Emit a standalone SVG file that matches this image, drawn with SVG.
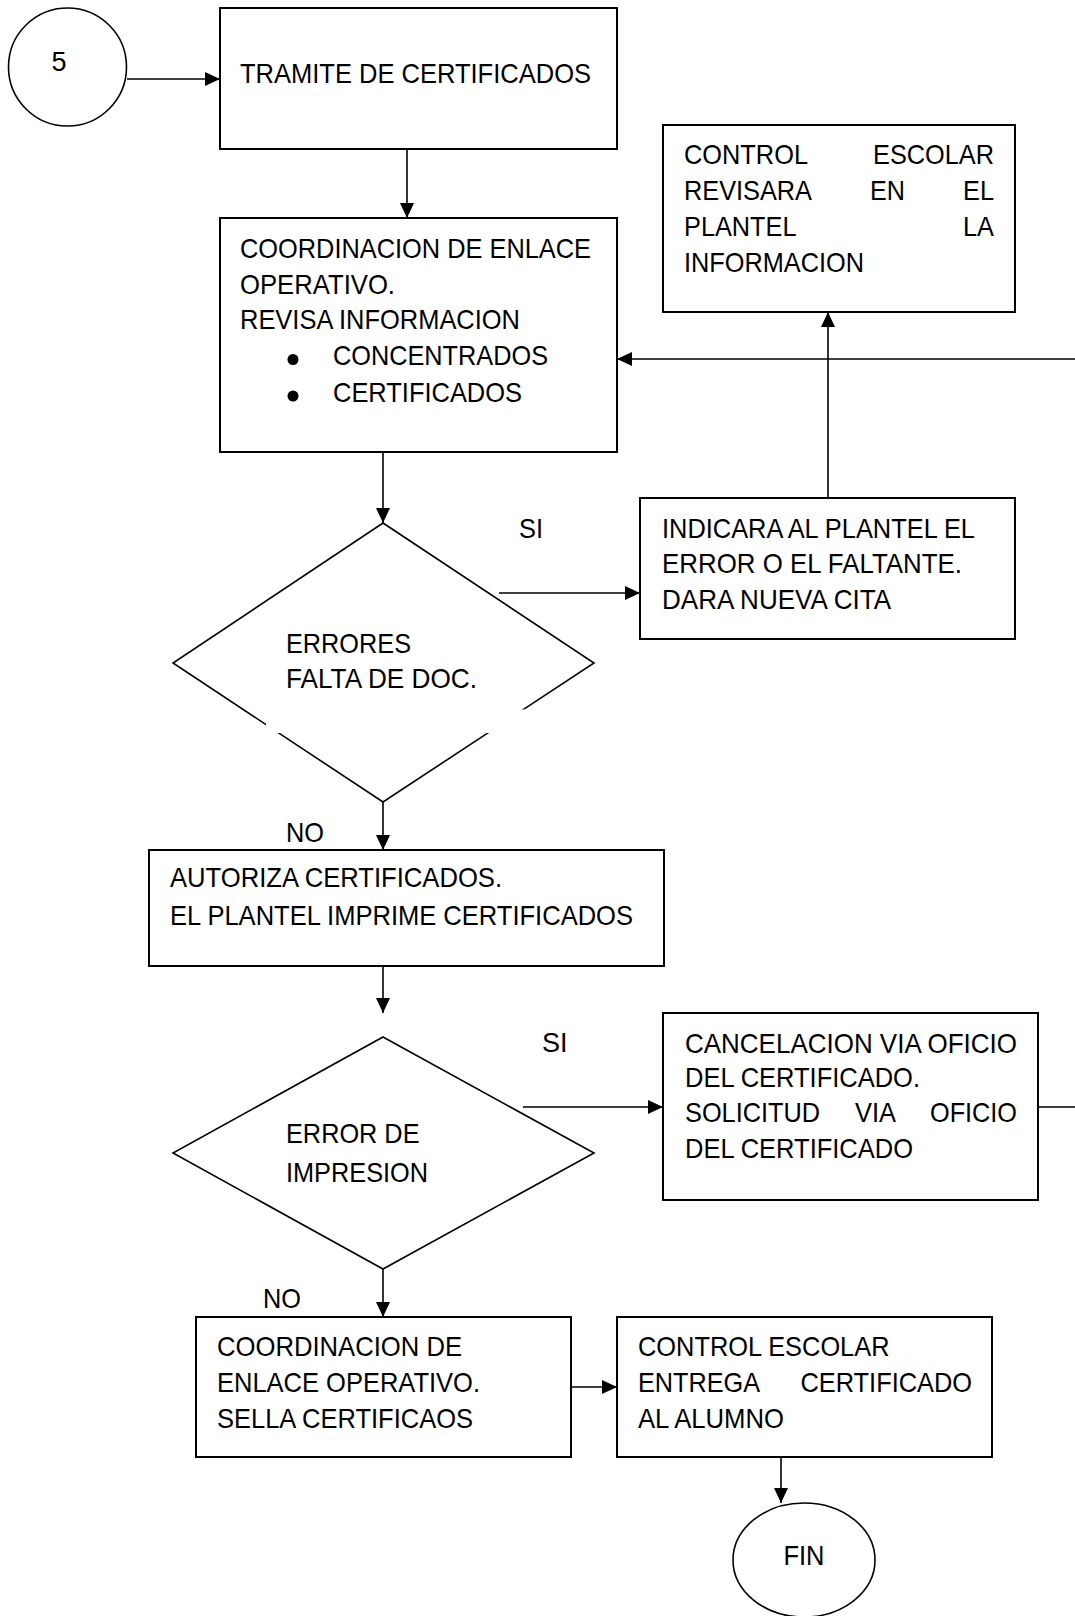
<svg xmlns="http://www.w3.org/2000/svg" width="1075" height="1616" viewBox="0 0 1075 1616">
  <style>
    .box { fill: #fff; stroke: #000; stroke-width: 2; }
    .shape { fill: #fff; stroke: #000; stroke-width: 1.6; }
    .link { fill: none; stroke: #000; stroke-width: 1.6; }
    .t { font-family: "Liberation Sans", Arial, sans-serif; font-size: 28px; fill: #000; }
    .plain { font-family: "Liberation Sans", Arial, sans-serif; font-size: 27px; fill: #000; }
  </style>
  <defs>
    <marker id="arrow" markerUnits="userSpaceOnUse" markerWidth="16" markerHeight="14" refX="15" refY="7" orient="auto">
      <path d="M0,0 L15,7 L0,14 Z" fill="#000"/>
    </marker>
  </defs>
  <rect width="1075" height="1616" fill="#fff"/>

  <!-- connectors -->
  <g id="connectors">
    <line class="link" x1="127" y1="79" x2="220" y2="79" marker-end="url(#arrow)"/>
    <line class="link" x1="407" y1="149" x2="407" y2="218" marker-end="url(#arrow)"/>
    <line class="link" x1="383" y1="452" x2="383" y2="523" marker-end="url(#arrow)"/>
    <line class="link" x1="499" y1="593" x2="640" y2="593" marker-end="url(#arrow)"/>
    <line class="link" x1="828" y1="498" x2="828" y2="312" marker-end="url(#arrow)"/>
    <line class="link" x1="1075" y1="359" x2="617" y2="359" marker-end="url(#arrow)"/>
    <line class="link" x1="383" y1="802" x2="383" y2="850" marker-end="url(#arrow)"/>
    <line class="link" x1="383" y1="966" x2="383" y2="1013" marker-end="url(#arrow)"/>
    <line class="link" x1="523" y1="1107" x2="663" y2="1107" marker-end="url(#arrow)"/>
    <line class="link" x1="1038" y1="1107" x2="1075" y2="1107"/>
    <line class="link" x1="383" y1="1269" x2="383" y2="1317" marker-end="url(#arrow)"/>
    <line class="link" x1="571" y1="1387" x2="617" y2="1387" marker-end="url(#arrow)"/>
    <line class="link" x1="781" y1="1457" x2="781" y2="1503" marker-end="url(#arrow)"/>
    <text class="t" x="519" y="538" textLength="24" lengthAdjust="spacingAndGlyphs">SI</text>
    <text class="t" x="286" y="841.5" textLength="38" lengthAdjust="spacingAndGlyphs">NO</text>
    <text class="plain" x="542" y="1052">SI</text>
    <text class="t" x="263" y="1308" textLength="38" lengthAdjust="spacingAndGlyphs">NO</text>
  </g>

  <!-- connector 5 -->
  <g id="start">
    <circle class="shape" cx="67.5" cy="67" r="59"/>
    <text class="plain" x="59" y="71" text-anchor="middle">5</text>
  </g>

  <g id="tramite">
    <rect class="box" x="220" y="8" width="397" height="141"/>
    <text class="t" x="240" y="83" textLength="351" lengthAdjust="spacingAndGlyphs">TRAMITE DE CERTIFICADOS</text>
  </g>

  <g id="coordinacion-revisa">
    <rect class="box" x="220" y="218" width="397" height="234"/>
    <text class="t" x="240" y="258" textLength="351" lengthAdjust="spacingAndGlyphs">COORDINACION DE ENLACE</text>
    <text class="t" x="240" y="293.5" textLength="155" lengthAdjust="spacingAndGlyphs">OPERATIVO.</text>
    <text class="t" x="240" y="328.5" textLength="280" lengthAdjust="spacingAndGlyphs">REVISA INFORMACION</text>
    <circle cx="293" cy="359.5" r="5.5" fill="#000"/>
    <text class="t" x="333" y="365" textLength="215" lengthAdjust="spacingAndGlyphs">CONCENTRADOS</text>
    <circle cx="293" cy="396" r="5.5" fill="#000"/>
    <text class="t" x="333" y="401.5" textLength="189" lengthAdjust="spacingAndGlyphs">CERTIFICADOS</text>
  </g>

  <g id="control-revisara">
    <rect class="box" x="663" y="125" width="352" height="187"/>
    <text class="t" x="684" y="164" textLength="124" lengthAdjust="spacingAndGlyphs">CONTROL</text>
    <text class="t" x="873" y="164" textLength="121" lengthAdjust="spacingAndGlyphs">ESCOLAR</text>
    <text class="t" x="684" y="200" textLength="128" lengthAdjust="spacingAndGlyphs">REVISARA</text>
    <text class="t" x="870" y="200" textLength="35" lengthAdjust="spacingAndGlyphs">EN</text>
    <text class="t" x="963" y="200" textLength="31" lengthAdjust="spacingAndGlyphs">EL</text>
    <text class="t" x="684" y="236" textLength="112.5" lengthAdjust="spacingAndGlyphs">PLANTEL</text>
    <text class="t" x="963" y="236" textLength="31" lengthAdjust="spacingAndGlyphs">LA</text>
    <text class="t" x="684" y="272" textLength="180" lengthAdjust="spacingAndGlyphs">INFORMACION</text>
  </g>

  <g id="indicara">
    <rect class="box" x="640" y="498" width="375" height="141"/>
    <text class="t" x="662" y="537.5" textLength="313" lengthAdjust="spacingAndGlyphs">INDICARA AL PLANTEL EL</text>
    <text class="t" x="662" y="573" textLength="300" lengthAdjust="spacingAndGlyphs">ERROR O EL FALTANTE.</text>
    <text class="t" x="662" y="609" textLength="229" lengthAdjust="spacingAndGlyphs">DARA NUEVA CITA</text>
  </g>

  <g id="errores">
    <polygon class="shape" points="383,523 594,663 383,802 173,663"/>
    <rect x="266" y="709.5" width="262" height="23.5" fill="#fff"/>
    <text class="t" x="286" y="652.7" textLength="125" lengthAdjust="spacingAndGlyphs">ERRORES</text>
    <text class="t" x="286" y="688" textLength="191" lengthAdjust="spacingAndGlyphs">FALTA DE DOC.</text>
  </g>

  <g id="autoriza">
    <rect class="box" x="149" y="850" width="515" height="116"/>
    <text class="t" x="170" y="887" textLength="332" lengthAdjust="spacingAndGlyphs">AUTORIZA CERTIFICADOS.</text>
    <text class="t" x="170" y="925" textLength="463" lengthAdjust="spacingAndGlyphs">EL PLANTEL IMPRIME CERTIFICADOS</text>
  </g>

  <g id="error-impresion">
    <polygon class="shape" points="383,1037 594,1153 383,1269 173,1153"/>
    <text class="t" x="286" y="1143" textLength="133.5" lengthAdjust="spacingAndGlyphs">ERROR DE</text>
    <text class="t" x="286" y="1181.5" textLength="142" lengthAdjust="spacingAndGlyphs">IMPRESION</text>
  </g>

  <g id="cancelacion">
    <rect class="box" x="663" y="1013" width="375" height="187"/>
    <text class="t" x="685" y="1053" textLength="332" lengthAdjust="spacingAndGlyphs">CANCELACION VIA OFICIO</text>
    <text class="t" x="685" y="1087" textLength="235" lengthAdjust="spacingAndGlyphs">DEL CERTIFICADO.</text>
    <text class="t" x="685" y="1122" textLength="135" lengthAdjust="spacingAndGlyphs">SOLICITUD</text>
    <text class="t" x="855" y="1122" textLength="41" lengthAdjust="spacingAndGlyphs">VIA</text>
    <text class="t" x="930" y="1122" textLength="87" lengthAdjust="spacingAndGlyphs">OFICIO</text>
    <text class="t" x="685" y="1158" textLength="228" lengthAdjust="spacingAndGlyphs">DEL CERTIFICADO</text>
  </g>

  <g id="sella">
    <rect class="box" x="196" y="1317" width="375" height="140"/>
    <text class="t" x="217" y="1356" textLength="245" lengthAdjust="spacingAndGlyphs">COORDINACION DE</text>
    <text class="t" x="217" y="1392" textLength="263" lengthAdjust="spacingAndGlyphs">ENLACE OPERATIVO.</text>
    <text class="t" x="217" y="1428" textLength="256" lengthAdjust="spacingAndGlyphs">SELLA CERTIFICAOS</text>
  </g>

  <g id="entrega">
    <rect class="box" x="617" y="1317" width="375" height="140"/>
    <text class="t" x="638" y="1356" textLength="251.5" lengthAdjust="spacingAndGlyphs">CONTROL ESCOLAR</text>
    <text class="t" x="638" y="1392" textLength="122" lengthAdjust="spacingAndGlyphs">ENTREGA</text>
    <text class="t" x="800.5" y="1392" textLength="171.5" lengthAdjust="spacingAndGlyphs">CERTIFICADO</text>
    <text class="t" x="638" y="1428" textLength="146" lengthAdjust="spacingAndGlyphs">AL ALUMNO</text>
  </g>

  <g id="fin">
    <ellipse class="shape" cx="804" cy="1560" rx="71" ry="57"/>
    <text class="t" x="804" y="1565" text-anchor="middle" textLength="41" lengthAdjust="spacingAndGlyphs">FIN</text>
  </g>
</svg>
